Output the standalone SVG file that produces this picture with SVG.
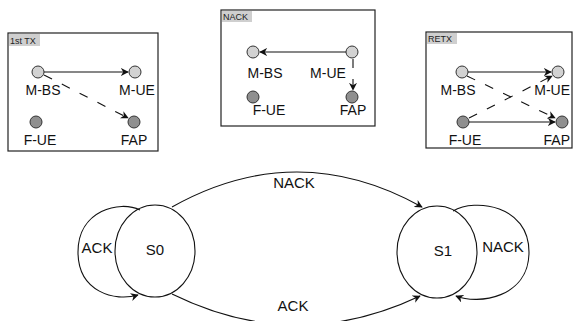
<svg xmlns="http://www.w3.org/2000/svg" width="573" height="321" viewBox="0 0 573 321">
<style>
.box{fill:#fff;stroke:#222;stroke-width:1.2}
.tag{fill:#cfcfcf}
.tagt{font-family:"Liberation Sans",Arial,sans-serif;font-size:9px;fill:#222}
.lbl{font-family:"Liberation Sans",Arial,sans-serif;font-size:14px;fill:#111}
.st{font-family:"Liberation Sans",Arial,sans-serif;font-size:15px;fill:#111}
.lt{fill:#d2d2d2;stroke:#333;stroke-width:1}
.dk{fill:#8f8f8f;stroke:#333;stroke-width:1}
.sol{fill:none;stroke:#111;stroke-width:1.1}
.dash{fill:none;stroke:#111;stroke-width:1.1;stroke-dasharray:9,11}
.ln{fill:none;stroke:#111;stroke-width:1.1}
</style>
<defs>
<marker id="ah" viewBox="0 0 10 10" refX="9" refY="5" markerWidth="8" markerHeight="8" markerUnits="userSpaceOnUse" orient="auto">
<path d="M0,0 L10,5 L0,10 L3,5 z" fill="#111"/>
</marker>
</defs>

<g id="panel-1stTX">
<rect class="box" x="8" y="33" width="150" height="118"/>
<rect class="tag" x="9" y="34" width="31" height="12"/>
<text class="tagt" x="10" y="43.5">1st TX</text>
</g>
<g id="p1-MBS"><circle class="lt" cx="38" cy="72" r="6"/><text class="lbl" x="43" y="95" text-anchor="middle">M-BS</text></g>
<g id="p1-MUE"><circle class="lt" cx="135" cy="72" r="6"/><text class="lbl" x="137" y="95" text-anchor="middle">M-UE</text></g>
<g id="p1-FUE"><circle class="dk" cx="36" cy="122" r="6"/><text class="lbl" x="40" y="145" text-anchor="middle">F-UE</text></g>
<g id="p1-FAP"><circle class="dk" cx="134" cy="122" r="6"/><text class="lbl" x="134" y="145" text-anchor="middle">FAP</text></g>

<g id="panel-NACK">
<rect class="box" x="221" y="10" width="154" height="116"/>
<rect class="tag" x="222" y="11" width="30" height="11"/>
<text class="tagt" x="223" y="20">NACK</text>
</g>
<g id="p2-MBS"><circle class="lt" cx="253" cy="52" r="6"/><text class="lbl" x="265" y="78" text-anchor="middle">M-BS</text></g>
<g id="p2-MUE"><circle class="lt" cx="352" cy="52" r="6"/><text class="lbl" x="328" y="78" text-anchor="middle">M-UE</text></g>
<g id="p2-FUE"><circle class="dk" cx="253" cy="97" r="6"/><text class="lbl" x="269" y="115" text-anchor="middle">F-UE</text></g>
<g id="p2-FAP"><circle class="dk" cx="352" cy="97" r="6"/><text class="lbl" x="353" y="115" text-anchor="middle">FAP</text></g>

<g id="panel-RETX">
<rect class="box" x="426" y="32" width="146" height="116"/>
<rect class="tag" x="427" y="33" width="30" height="11"/>
<text class="tagt" x="428" y="42">RETX</text>
</g>
<g id="p3-MBS"><circle class="lt" cx="462" cy="72" r="6"/><text class="lbl" x="458" y="95" text-anchor="middle">M-BS</text></g>
<g id="p3-MUE"><circle class="lt" cx="558" cy="72" r="6"/><text class="lbl" x="570" y="95" text-anchor="end">M-UE</text></g>
<g id="p3-FUE"><circle class="dk" cx="463" cy="122" r="6"/><text class="lbl" x="465" y="145" text-anchor="middle">F-UE</text></g>
<g id="p3-FAP"><circle class="dk" cx="562" cy="122" r="6"/><text class="lbl" x="570" y="145" text-anchor="end">FAP</text></g>

<g id="S0"><ellipse class="ln" cx="155" cy="251" rx="40" ry="46"/><text class="st" x="155" y="255" text-anchor="middle">S0</text></g>
<g id="S1"><ellipse class="ln" cx="437" cy="252" rx="40" ry="46"/><text class="st" x="443" y="256" text-anchor="middle">S1</text></g>

<g id="connectors">
<line class="sol" x1="44" y1="72" x2="128" y2="72" marker-end="url(#ah)"/>
<line class="dash" x1="44" y1="75" x2="128" y2="118" marker-end="url(#ah)"/>
<line class="sol" x1="346" y1="52" x2="260" y2="52" marker-end="url(#ah)"/>
<line class="dash" x1="353" y1="59" x2="353" y2="90" stroke-dasharray="6,5" marker-end="url(#ah)"/>
<line class="sol" x1="468" y1="72" x2="551" y2="72" marker-end="url(#ah)"/>
<line class="sol" x1="469" y1="122" x2="555" y2="122" marker-end="url(#ah)"/>
<line class="dash" x1="467" y1="76" x2="555" y2="118" marker-end="url(#ah)"/>
<line class="dash" x1="469" y1="118" x2="552" y2="76" marker-end="url(#ah)"/>

<path class="ln" d="M172,207 Q297,137 422,207" marker-end="url(#ah)"/>
<text class="st" x="294" y="188" text-anchor="middle">NACK</text>
<path class="ln" d="M172,294 Q296,355 420,296" marker-end="url(#ah)"/>
<text class="st" x="293" y="311" text-anchor="middle">ACK</text>
<path class="ln" d="M140,210 C120,200 78,210 78,252 C78,292 115,302 138,295" marker-end="url(#ah)"/>
<text class="st" x="97" y="253" text-anchor="middle">ACK</text>
<path class="ln" d="M453,211 C475,198 529,205 529,252 C529,298 478,305 456,296" marker-end="url(#ah)"/>
<text class="st" x="503" y="252" text-anchor="middle">NACK</text>
</g>
</svg>
